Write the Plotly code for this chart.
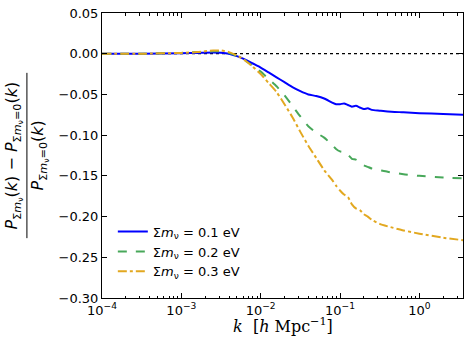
import plotly.graph_objects as go

# log10(k) sample points
log_k = [-4.0, -3.5, -3.0, -2.8, -2.6, -2.5, -2.4, -2.3, -2.2, -2.1, -2.0, -1.9, -1.8,
         -1.7, -1.6, -1.5, -1.4, -1.3, -1.2, -1.1, -1.05, -1.0, -0.95, -0.9, -0.85,
         -0.8, -0.75, -0.7, -0.65, -0.6, -0.5, -0.4, -0.2, 0.0, 0.3, 0.55]

ratio_01 = [0.0, 0.0, 0.0005, 0.001, 0.0015, 0.0012, 0.0, -0.003, -0.007, -0.012, -0.017,
            -0.023, -0.029, -0.035, -0.041, -0.046, -0.050, -0.052, -0.055, -0.060, -0.062,
            -0.062, -0.061, -0.063, -0.065, -0.064, -0.066, -0.068, -0.067, -0.069, -0.070,
            -0.071, -0.072, -0.073, -0.074, -0.075]
ratio_02 = [0.0, 0.0, 0.001, 0.002, 0.003, 0.003, 0.001, -0.003, -0.008, -0.015, -0.022,
            -0.031, -0.040, -0.051, -0.064, -0.077, -0.089, -0.097, -0.103, -0.112, -0.117,
            -0.120, -0.121, -0.124, -0.129, -0.130, -0.133, -0.137, -0.139, -0.141, -0.143,
            -0.145, -0.148, -0.150, -0.152, -0.153]
ratio_03 = [0.0, 0.0, 0.001, 0.002, 0.004, 0.004, 0.002, -0.002, -0.008, -0.016, -0.025,
            -0.036, -0.047, -0.062, -0.078, -0.096, -0.113, -0.128, -0.143, -0.155, -0.162,
            -0.168, -0.173, -0.176, -0.185, -0.190, -0.192, -0.197, -0.200, -0.204, -0.209,
            -0.212, -0.217, -0.221, -0.226, -0.229]

labels = ["Σ<i>m</i><sub>ν</sub> = 0.1 eV", "Σ<i>m</i><sub>ν</sub> = 0.2 eV",
          "Σ<i>m</i><sub>ν</sub> = 0.3 eV"]

x_tickvals = [1e-4, 1e-3, 1e-2, 1e-1, 1]
x_ticktext = ["10<sup>−4</sup>", "10<sup>−3</sup>", "10<sup>−2</sup>", "10<sup>−1</sup>", "10<sup>0</sup>"]
x_minor = [m * d for d in x_tickvals for m in range(2, 10)]
y_tickvals = [0.05, 0.0, -0.05, -0.10, -0.15, -0.20, -0.25, -0.30]
y_ticktext = ["0.05", "0.00", "−0.05", "−0.10", "−0.15", "−0.20", "−0.25", "−0.30"]

k = [10 ** v for v in log_k]

fig = go.Figure()

# zero reference
fig.add_trace(go.Scatter(x=[k[0], k[-1]], y=[0, 0], mode="lines", showlegend=False,
                         line=dict(color="black", width=1.2, dash="dot")))

styles = [("#0000ff", "solid"), ("#48a85a", "dash"), ("#e2a820", "dashdot")]
for ys, name, (col, dash) in zip([ratio_01, ratio_02, ratio_03], labels, styles):
    fig.add_trace(go.Scatter(x=k, y=ys, mode="lines", name=name,
                             line=dict(color=col, width=2, dash=dash,
                                       shape="spline", smoothing=0.5)))

axis_common = dict(showline=True, linecolor="black", linewidth=1, mirror="ticks",
                   ticks="inside", ticklen=5, tickcolor="black", showgrid=False,
                   zeroline=False, tickfont=dict(size=13, color="black"))

fig.update_xaxes(type="log", range=[-4, 0.55], tickvals=x_tickvals, ticktext=x_ticktext,
                 minor=dict(tickvals=x_minor, ticks="inside", ticklen=2.5,
                            tickcolor="black", showgrid=False),
                 **axis_common)
fig.update_yaxes(range=[-0.30, 0.05], tickvals=y_tickvals, ticktext=y_ticktext,
                 **axis_common)

fig.add_annotation(text="<i>k</i>  [<i>h</i> Mpc<sup>−1</sup>]", xref="paper", yref="paper",
                   x=0.5, y=-0.095, yanchor="middle", showarrow=False,
                   font=dict(size=16, color="black", family="DejaVu Serif"))

# y label as a fraction, rotated
num = "<i>P</i><sub>Σ<i>m</i><sub>ν</sub></sub>(<i>k</i>) − <i>P</i><sub>Σ<i>m</i><sub>ν</sub>=0</sub>(<i>k</i>)"
den = "<i>P</i><sub>Σ<i>m</i><sub>ν</sub>=0</sub>(<i>k</i>)"
fig.add_annotation(text=num, xref="paper", yref="paper", x=-0.244, y=0.5, showarrow=False,
                   textangle=-90, xanchor="center", yanchor="middle",
                   font=dict(size=16, color="black"))
fig.add_annotation(text=den, xref="paper", yref="paper", x=-0.172, y=0.5, showarrow=False,
                   textangle=-90, xanchor="center", yanchor="middle",
                   font=dict(size=16, color="black"))
fig.add_shape(type="line", xref="paper", yref="paper", x0=-0.208, x1=-0.208, y0=0.21, y1=0.79,
              line=dict(color="black", width=1))

fig.update_layout(
    width=469, height=350,
    margin=dict(l=102, r=6, t=13, b=52),
    plot_bgcolor="white", paper_bgcolor="white",
    font=dict(family="DejaVu Sans", color="black"),
    legend=dict(x=0.03, y=0.04, xanchor="left", yanchor="bottom", bgcolor="rgba(0,0,0,0)",
                font=dict(size=13), itemwidth=30, tracegroupgap=2),
)

# drop the default body margin so the figure sits at the window's corner
fig.write_html("out.html", config={"displayModeBar": False},
               post_script="document.body.style.margin='0';")
